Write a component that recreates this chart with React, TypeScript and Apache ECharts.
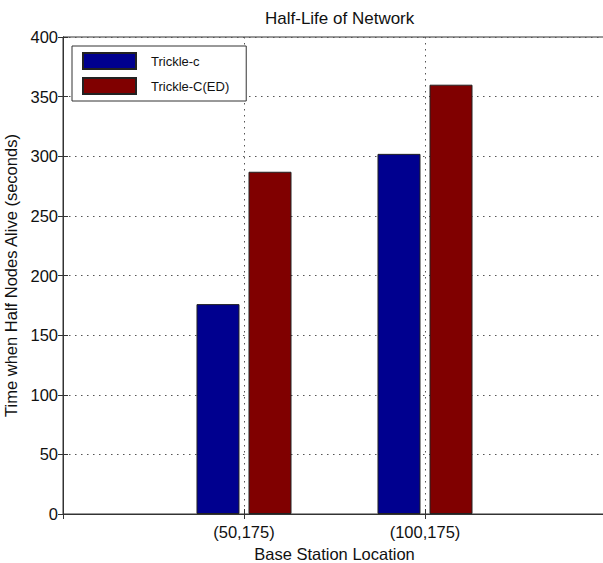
import React, { useEffect, useRef } from "react";
import * as echarts from "echarts";

const categories = ["(50,175)", "(100,175)"];
const trickleC = [176, 302];
const trickleCED = [287, 360];
const yTicks = { min: 0, max: 400, interval: 50 };

const FONT = "'Liberation Sans', Arial, sans-serif";
const TEXT = "#111";
const GRIDLINE = { show: true, lineStyle: { color: "#555", type: [1.5, 4.5], width: 1 } };

export default function App() {
  const ref = useRef<HTMLDivElement>(null);
  useEffect(() => {
    document.body.style.margin = "0";
    if (!ref.current) return;
    const chart = echarts.init(ref.current, null, { renderer: "svg" });
    const pos = (i: number) => i + 1;
    const catLabel = (v: number) => (v >= 1 && v <= categories.length ? categories[v - 1] : "");
    chart.setOption({
      animation: false,
      backgroundColor: "#fff",
      title: {
        text: "Half-Life of Network",
        left: 260,
        top: 5,
        textStyle: { fontFamily: FONT, fontSize: 17, fontWeight: "normal", color: TEXT },
      },
      legend: {
        orient: "vertical",
        left: 72,
        top: 46,
        padding: [6, 17, 6, 10],
        borderColor: "#333",
        borderWidth: 1,
        backgroundColor: "#fff",
        itemWidth: 53,
        itemHeight: 16,
        itemGap: 7,
        icon: "rect",
        textStyle: {
          fontFamily: FONT,
          fontSize: 13,
          color: TEXT,
          padding: [0, 0, 0, 10],
        },
        data: ["Trickle-c", "Trickle-C(ED)"],
      },
      grid: {
        left: 63,
        top: 37,
        width: 543,
        height: 477,
        show: true,
        borderColor: "#333",
        borderWidth: 1,
        containLabel: false,
        outerBoundsMode: "none",
      },
      xAxis: [
        {
          type: "value",
          min: 0,
          max: categories.length + 1,
          interval: 1,
          name: "Base Station Location",
          nameLocation: "middle",
          nameGap: 31,
          nameTextStyle: { fontFamily: FONT, fontSize: 16.5, color: TEXT },
          axisLine: { show: true, lineStyle: { color: "#333", width: 1 } },
          axisTick: { show: true, inside: true, length: 5, lineStyle: { color: "#333" } },
          axisLabel: { margin: 9, fontFamily: FONT, fontSize: 16.5, color: TEXT, formatter: catLabel },
          splitLine: GRIDLINE,
        },
        {
          type: "value",
          position: "top",
          min: 0,
          max: categories.length + 1,
          interval: 1,
          axisLine: { show: true, lineStyle: { color: "#333", width: 1 } },
          axisTick: { show: true, inside: true, length: 5, lineStyle: { color: "#333" } },
          axisLabel: { show: false },
          splitLine: { show: false },
        },
      ],
      yAxis: [
        {
          type: "value",
          min: yTicks.min,
          max: yTicks.max,
          interval: yTicks.interval,
          name: "Time when Half Nodes Alive (seconds)",
          nameLocation: "middle",
          nameGap: 41,
          nameTextStyle: { fontFamily: FONT, fontSize: 16.5, color: TEXT },
          axisLine: { show: true, lineStyle: { color: "#333", width: 1 } },
          axisTick: { show: true, inside: true, length: 5, lineStyle: { color: "#333" } },
          axisLabel: { margin: 5, fontFamily: FONT, fontSize: 16.5, color: TEXT },
          splitLine: GRIDLINE,
        },
        {
          type: "value",
          position: "right",
          min: yTicks.min,
          max: yTicks.max,
          interval: yTicks.interval,
          axisLine: { show: true, lineStyle: { color: "#333", width: 1 } },
          axisTick: { show: true, inside: true, length: 5, lineStyle: { color: "#333" } },
          axisLabel: { show: false },
          splitLine: { show: false },
        },
      ],
      series: [
        {
          name: "Trickle-c",
          type: "bar",
          barWidth: 43,
          barGap: "21%",
          itemStyle: { color: "#00008F", borderColor: "#222", borderWidth: 1 },
          data: trickleC.map((v, i) => [pos(i), v]),
        },
        {
          name: "Trickle-C(ED)",
          type: "bar",
          barWidth: 43,
          barGap: "21%",
          itemStyle: { color: "#800000", borderColor: "#222", borderWidth: 1 },
          data: trickleCED.map((v, i) => [pos(i), v]),
        },
      ],
    });
    return () => chart.dispose();
  }, []);
  return <div ref={ref} style={{ width: 603, height: 563 }} />;
}
